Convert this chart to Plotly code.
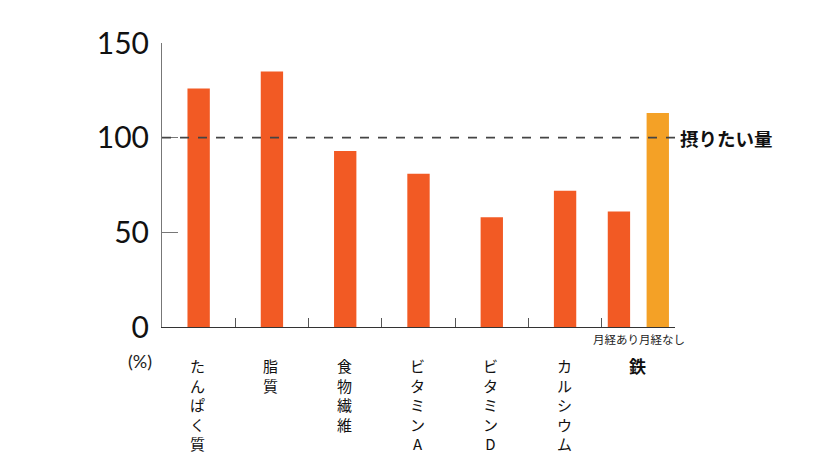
import plotly.graph_objects as go

categories = ["たんぱく質", "脂質", "食物繊維", "ビタミンA", "ビタミンD", "カルシウム"]
values = [126, 135, 93, 81, 58, 72]
iron_label = "鉄"
iron_sub = ["月経あり", "月経なし"]
iron_values = [61, 113]
target_value = 100
target_label = "摂りたい量"
y_ticks = [0, 50, 100, 150]

RED = "#F25A24"
ORANGE = "#F4A126"
JP = "Noto Sans CJK JP"

n = len(categories) + 1
xs = list(range(len(categories)))
iron_center = len(categories)
iron_off = 0.265
iron_x = [iron_center - iron_off, iron_center + iron_off]

fig = go.Figure()
fig.add_trace(go.Bar(x=xs, y=values, width=0.305, marker=dict(color=RED, line=dict(width=0))))
fig.add_trace(go.Bar(x=iron_x, y=iron_values, width=0.305,
                     marker=dict(color=[RED, ORANGE], line=dict(width=0))))

fig.add_shape(type="line", xref="x", yref="y", x0=-0.5, x1=n - 0.5,
              y0=target_value, y1=target_value,
              line=dict(color="#444444", width=1.6, dash="dash"))

ann = []
ann.append(dict(x=n - 0.5, y=target_value, xref="x", yref="y", text="<b>" + target_label + "</b>",
                showarrow=False, xanchor="left", yanchor="middle", xshift=3,
                font=dict(family=JP, size=18.5, color="#111111")))

for i, lab in enumerate(categories):
    ann.append(dict(x=xs[i], y=0, xref="x", yref="paper", text="<br>".join(lab), showarrow=False,
                    xanchor="center", yanchor="top", yshift=-26, xshift=-1,
                    font=dict(family=JP, size=15, color="#111111")))
ann.append(dict(x=iron_center, y=0, xref="x", yref="paper", text="<b>" + iron_label + "</b>",
                showarrow=False, xanchor="center", yanchor="top", yshift=-24, xshift=-1,
                font=dict(family=JP, size=17, color="#111111")))
for k, s in enumerate(iron_sub):
    ann.append(dict(x=iron_x[k], y=0, xref="x", yref="paper", text=s, showarrow=False,
                    xanchor="center", yanchor="top", yshift=-2, xshift=(-3 if k == 0 else 4),
                    font=dict(family=JP, size=11.5, color="#222222")))
ann.append(dict(x=0, y=0, xref="paper", yref="paper", text="(%)", showarrow=False,
                xanchor="center", yanchor="middle", xshift=-22, yshift=-34,
                font=dict(family="Lato, Noto Sans", size=18, color="#222222")))

fig.update_layout(
    width=832, height=456,
    margin=dict(l=154, r=165, t=35, b=137),
    paper_bgcolor="white", plot_bgcolor="white",
    showlegend=False, barmode="overlay",
    annotations=ann,
    xaxis=dict(range=[-0.5, n - 0.5], showgrid=False, zeroline=False,
               showline=True, linecolor="#333333", linewidth=1.2,
               tickmode="array", tickvals=[i - 0.5 for i in range(n + 1)],
               ticks="inside", ticklen=9, tickcolor="#555555", tickwidth=1,
               showticklabels=False),
    yaxis=dict(range=[0, 150], showgrid=False, zeroline=False,
               showline=True, linecolor="#777777", linewidth=1,
               tickmode="array", tickvals=y_ticks,
               ticks="inside", ticklen=16, tickcolor="#777777", tickwidth=1,
               tickfont=dict(family="Lato, Noto Sans", size=30, color="#111111"),
               ticklabelstandoff=6),
)

fig.write_html("out.html")
